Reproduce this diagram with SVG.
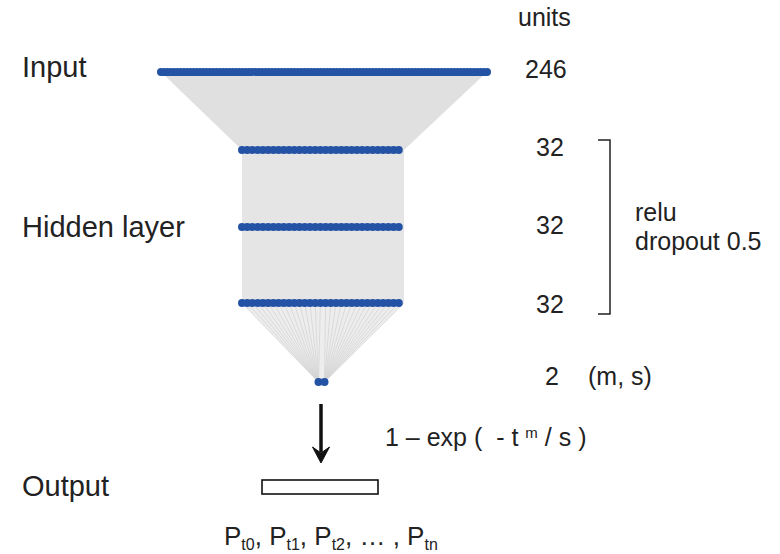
<svg xmlns="http://www.w3.org/2000/svg" width="780" height="554" viewBox="0 0 780 554">
<style>
text{font-family:"Liberation Sans",Arial,sans-serif;fill:#222}
.lbl{font-size:29px}
.num{font-size:25px}
.layer{stroke:#2452A4;stroke-width:8;stroke-linecap:round;fill:none}
.fan{stroke:#d4d4d4;stroke-width:0.8;fill:none}
</style>
<rect width="780" height="554" fill="#fff"/>
<g id="connectors">
<polygon points="161,72 487,72 404,150 242,150" fill="#e0e0e0"/>
<rect x="242" y="150" width="162" height="153" fill="#e5e5e5"/>
<polygon points="242,303 404,303 324,382 318,382" fill="#ededed"/>
<path class="fan" d="M242,303L318.5,382M247.2,303L318.5,382M252.5,303L318.5,382M257.7,303L318.5,382M262.9,303L318.5,382M268.1,303L318.5,382M273.4,303L318.5,382M278.6,303L318.5,382M283.8,303L318.5,382M289,303L318.5,382M294.3,303L318.5,382M299.5,303L318.5,382M304.7,303L318.5,382M309.9,303L318.5,382M315.2,303L318.5,382M320.4,303L318.5,382M325.6,303L324.5,382M330.8,303L324.5,382M336.1,303L324.5,382M341.3,303L324.5,382M346.5,303L324.5,382M351.7,303L324.5,382M357,303L324.5,382M362.2,303L324.5,382M367.4,303L324.5,382M372.6,303L324.5,382M377.9,303L324.5,382M383.1,303L324.5,382M388.3,303L324.5,382M393.5,303L324.5,382M398.8,303L324.5,382M404,303L324.5,382"/>
<g id="arrow">
<line x1="321" y1="404" x2="321" y2="452" stroke="#111" stroke-width="3.5"/>
<path d="M321,463 L312.5,447 L321,453 L329.5,447 Z" fill="#111" stroke="#111" stroke-width="1" stroke-linejoin="round"/>
</g>
</g>
<g id="input-layer">
<line class="layer" x1="161" y1="72" x2="487" y2="72" stroke-dasharray="0 3.26"/>
</g>
<g id="hidden-1">
<line class="layer" x1="242" y1="150" x2="404" y2="150" stroke-dasharray="0 5.226"/>
</g>
<g id="hidden-2">
<line class="layer" x1="242" y1="227" x2="404" y2="227" stroke-dasharray="0 5.226"/>
</g>
<g id="hidden-3">
<line class="layer" x1="242" y1="303" x2="404" y2="303" stroke-dasharray="0 5.226"/>
</g>
<g id="output-units">
<circle cx="318.5" cy="382" r="4" fill="#2452A4"/>
<circle cx="324.5" cy="382" r="4" fill="#2452A4"/>
</g>
<g id="output-box">
<rect x="262" y="480" width="116" height="14" fill="#fff" stroke="#111" stroke-width="1.6"/>
</g>
<g id="labels">
<text class="lbl" x="22" y="77">Input</text>
<text class="lbl" x="22" y="237">Hidden layer</text>
<text class="lbl" x="22" y="496">Output</text>
<text class="num" x="518" y="26">units</text>
<text class="num" x="525" y="78">246</text>
<text class="num" x="536" y="156">32</text>
<text class="num" x="536" y="234">32</text>
<text class="num" x="536" y="313">32</text>
<text class="num" x="545" y="385">2</text>
<text class="num" x="588" y="385">(m, s)</text>
<text class="num" x="635" y="221">relu</text>
<text class="num" x="635" y="250">dropout 0.5</text>
<text class="num" x="385" y="446" xml:space="preserve">1 – exp (  - t <tspan font-size="15" dy="-8">m</tspan><tspan dy="8"> / s )</tspan></text>
<text x="224" y="545" font-size="26">P<tspan font-size="16" dy="5">t0</tspan><tspan dy="-5">, P</tspan><tspan font-size="16" dy="5">t1</tspan><tspan dy="-5">, P</tspan><tspan font-size="16" dy="5">t2</tspan><tspan dy="-5">, … , P</tspan><tspan font-size="16" dy="5">tn</tspan></text>
</g>
<g id="bracket">
<path d="M598,140 H610 V314 H598" fill="none" stroke="#222" stroke-width="1.5"/>
</g>
</svg>
